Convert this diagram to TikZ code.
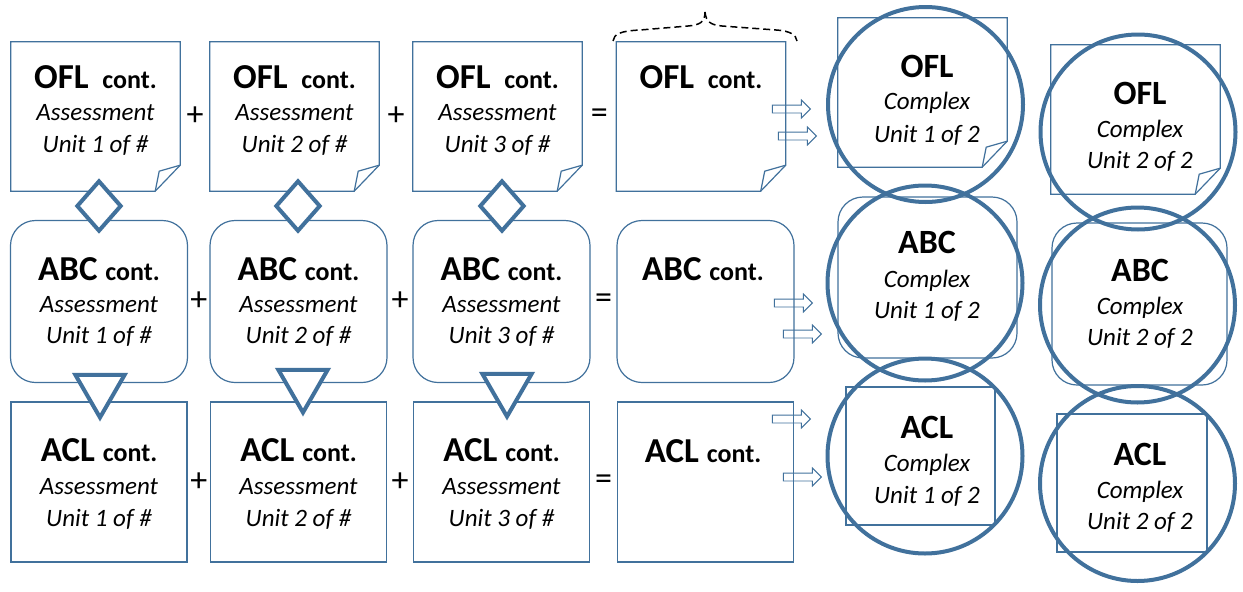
\documentclass[tikz,border=0pt]{standalone}
\usepackage{fontspec}
\setmainfont{Carlito}
\usepackage{tikz}
\usetikzlibrary{calc}
\usetikzlibrary{shapes.geometric}
\usetikzlibrary{shapes.arrows}

\definecolor{unitblue}{RGB}{65,113,156}

\tikzset{
  boxline/.style={draw=unitblue, line width=1.2pt},
  notebox/.style={rectangle, minimum width=169pt, minimum height=149pt, inner sep=0pt},
  roundbox/.style={rectangle, boxline, fill=white, rounded corners=25pt,
    minimum width=177pt, minimum height=162pt, inner sep=0pt},
  plainbox/.style={rectangle, boxline, fill=white,
    minimum width=176pt, minimum height=160pt, inner sep=0pt},
  ring/.style={circle, draw=unitblue, line width=4pt, minimum size=195pt, inner sep=0pt},
  haslink/.style={diamond, draw=unitblue, line width=4pt, fill=white,
    minimum width=45pt, minimum height=51pt, inner sep=0pt},
  isalink/.style={regular polygon, regular polygon sides=3, shape border rotate=180,
    draw=unitblue, line width=4pt, fill=white, minimum size=57pt, inner sep=0pt},
  blockarrow/.style={single arrow, draw=unitblue, line width=0.9pt,
    minimum height=38pt, inner sep=3.5pt, single arrow head extend=5pt, anchor=tip},
  hd/.style={anchor=base, inner sep=0pt, font=\fontsize{35}{40}\selectfont\bfseries},
  sub/.style={anchor=base, inner sep=0pt, font=\fontsize{25}{30}\selectfont\itshape},
  op/.style={inner sep=0pt, font=\fontsize{34}{36}\selectfont},
  bracedash/.style={draw=black, line width=1.5pt, dash pattern=on 7pt off 4pt},
}

\newcommand\cnt{{\fontsize{26}{30}\selectfont cont.}}
\newcommand\pagefold[1]{%
  \draw[boxline, fill=white] (#1.north west) -- (#1.north east)
    -- ([yshift=26pt]#1.south east) -- ([xshift=-25pt]#1.south east)
    -- (#1.south west) -- cycle;
  \draw[boxline, line join=round] ([xshift=-25pt]#1.south east)
    -- ([xshift=-21pt,yshift=20pt]#1.south east) -- ([yshift=26pt]#1.south east);
}

\begin{document}
\begin{tikzpicture}[x=1pt,y=-1pt]
  \useasboundingbox (0,0) rectangle (1243,592);

  % assessment units
  \foreach \i/\x in {1/95.5,2/294.5,3/497.5,4/701} {
    \node[notebox] (ofl\i) at (\x,116.5) {};
    \pagefold{ofl\i}
  }
  \foreach \i/\x in {1/99,2/298.5,3/501.5,4/705.5} {
    \node[roundbox] (abc\i) at (\x,301.5) {};
    \node[plainbox] (acl\i) at (\x,482) {};
  }

  % links between the rows
  \foreach \i/\x in {1/99,2/298,3/502} {
    \node[haslink] (has\i) at (\x,206) {};
  }
  \foreach \i/\x/\y in {1/100/389,2/303/384,3/507/388} {
    \node[isalink] (isa\i) at (\x,\y) {};
  }

  % texts
  \foreach \i/\x in {1/95.5,2/294.5,3/497.5} {
    \node[hd] (oflh\i) at (\x,88) {OFL\, \cnt};
    \node[sub] (ofla\i) at (\x,120) {Assessment};
    \node[sub] (oflu\i) at (\x,152) {Unit \i{} of \#};
  }
  \foreach \i/\x in {1/99,2/298.5,3/501.5} {
    \node[hd] (abch\i) at (\x,280) {ABC \cnt};
    \node[sub] (abca\i) at (\x,312) {Assessment};
    \node[sub] (abcu\i) at (\x,343) {Unit \i{} of \#};
    \node[hd] (aclh\i) at (\x,461) {ACL \cnt};
    \node[sub] (acla\i) at (\x,494) {Assessment};
    \node[sub] (aclu\i) at (\x,526) {Unit \i{} of \#};
  }
  \node[hd] (oflh4) at (701,88) {OFL\, \cnt};
  \node[hd] (abch4) at (703,280) {ABC \cnt};
  \node[hd] (aclh4) at (703,462) {ACL \cnt};

  % + and =
  \foreach \r in {ofl,abc,acl} {
    \node[op] (\r p1) at ($(\r1.east)!.5!(\r2.west)$) {+};
    \node[op] (\r p2) at ($(\r2.east)!.5!(\r3.west)$) {+};
    \node[op] (\r eq) at ($(\r3.east)!.5!(\r4.west)$) {=};
  }

  % brace over the sum
  \draw[bracedash] (613,41) .. controls (614,34) and (620,31) .. (640,30)
    -- (688,26) .. controls (700,25) and (705,22) .. (705,12);
  \draw[bracedash] (705,12) .. controls (706,22) and (711,25) .. (722,26)
    -- (776,30) .. controls (791,31) and (796,35) .. (797,41);

  % arrows to the complex units
  \node[blockarrow] (go11) at (811,109) {};
  \node[blockarrow] (go12) at (817,136) {};
  \node[blockarrow] (go21) at (813,303) {};
  \node[blockarrow] (go22) at (822,334) {};
  \node[blockarrow] (go31) at (811,419) {};
  \node[blockarrow] (go32) at (822,477) {};

  % complex units
  \node[notebox] (oflc1) at (922.5,92.5) {};
  \pagefold{oflc1}
  \node[notebox] (oflc2) at (1135.5,119.5) {};
  \pagefold{oflc2}
  \node[roundbox, minimum width=179pt, minimum height=161pt] (abcc1) at (927.5,277.5) {};
  \node[roundbox, minimum width=175pt, minimum height=162pt] (abcc2) at (1139.5,304) {};
  \node[plainbox, minimum width=149pt, minimum height=138pt] (aclc1) at (920.5,456) {};
  \node[plainbox, minimum width=150pt, minimum height=138pt] (aclc2) at (1132,483) {};

  \foreach \r/\t/\n/\x/\ya/\yb/\yc in {ofl/OFL/1/927/77/109/142, ofl/OFL/2/1140/104/137/168,
      abc/ABC/1/927/253/287/318, abc/ABC/2/1140/281/314/345,
      acl/ACL/1/927/438/471/503, acl/ACL/2/1140/465/498/529} {
    \node[hd, font=\fontsize{34}{40}\selectfont\bfseries] (\r ct\n) at (\x,\ya) {\t};
    \node[sub] (\r cc\n) at (\x,\yb) {Complex};
    \node[sub] (\r cu\n) at (\x,\yc) {Unit \n{} of 2};
  }

  \node[ring] (ring11) at (925.5,104.5) {};
  \node[ring] (ring12) at (1138,132) {};
  \node[ring] (ring21) at (925,283) {};
  \node[ring] (ring22) at (1137.5,305) {};
  \node[ring] (ring31) at (925,456) {};
  \node[ring] (ring32) at (1137.5,483.5) {};
\end{tikzpicture}
\end{document}
